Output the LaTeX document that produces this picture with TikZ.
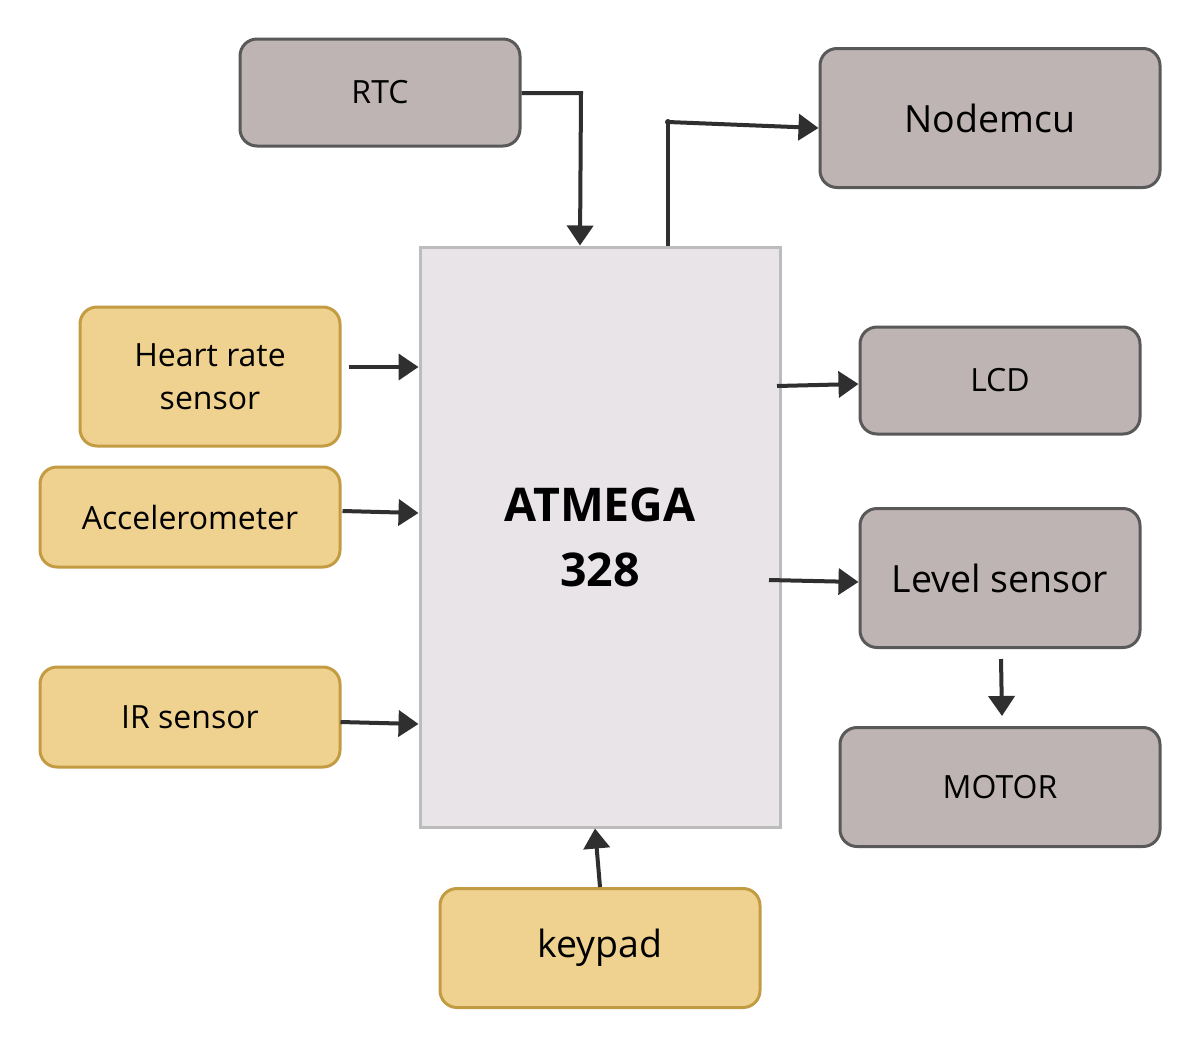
\documentclass[tikz,border=0pt]{standalone}
\usepackage{fontspec}
\setmainfont{Open Sans}
\usetikzlibrary{arrows.meta}
\definecolor{grayfill}{HTML}{BEB4B3}
\definecolor{grayline}{HTML}{595959}
\definecolor{yelfill}{HTML}{F0D290}
\definecolor{yelline}{HTML}{C39B43}
\definecolor{mcufill}{HTML}{E8E4E8}
\definecolor{mculine}{HTML}{BCBCBC}
\definecolor{arrcol}{HTML}{2F2F2F}
\begin{document}
\begin{tikzpicture}[x=1pt,y=-1pt,
  box/.style={draw, line width=3pt, rounded corners=17pt, inner sep=0pt, align=center},
  graybox/.style={box, fill=grayfill, draw=grayline},
  yelbox/.style={box, fill=yelfill, draw=yelline},
  mcu/.style={draw=mculine, fill=mcufill, line width=3pt, inner sep=0pt, align=center},
  arr/.style={draw=arrcol, line width=4pt, -{Triangle[length=20pt,width=26pt]}},
  ln/.style={draw=arrcol, line width=4pt},
  smallfont/.style={font=\fontsize{32}{43}\selectfont},
  bigfont/.style={font=\fontsize{37.5}{45}\selectfont}]
\useasboundingbox[fill=white] (0,0) rectangle (1201,1047);
% nodes
\node[mcu, minimum width=360pt, minimum height=580pt, font=\fontsize{46.5}{65}\selectfont\bfseries] (atmega) at (600,537)
  {ATMEGA\\328};
\node[graybox, minimum width=280pt, minimum height=107pt, smallfont] (rtc) at (380,92.5) {RTC};
\node[graybox, minimum width=340pt, minimum height=139pt, bigfont] (nodemcu) at (990,118) {Nodemcu};
\node[yelbox, minimum width=260pt, minimum height=139pt, smallfont] (heart) at (210,376.5) {Heart rate\\sensor};
\node[yelbox, minimum width=300pt, minimum height=100pt, smallfont] (accel) at (190,517) {Accelerometer};
\node[yelbox, minimum width=300pt, minimum height=100pt, smallfont] (ir) at (190,717) {IR sensor};
\node[graybox, minimum width=280pt, minimum height=107pt, smallfont] (lcd) at (1000,380.5) {LCD};
\node[graybox, minimum width=280pt, minimum height=139pt, bigfont] (level) at (1000,578) {Level sensor};
\node[graybox, minimum width=320pt, minimum height=119pt, smallfont] (motor) at (1000,787) {MOTOR};
\node[yelbox, minimum width=320pt, minimum height=119pt, bigfont] (keypad) at (600,948) {keypad};
% connectors
\draw[arr] (rtc.east |- 0,93) -- (581,93) -- (atmega.north -| 580,0);
\draw[ln] (atmega.north -| 668,0) -- (668,122);
\draw[arr] (668,122) -- (nodemcu.west |- 0,128);
\fill[arrcol] (668,122) circle (3pt);
\draw[arr] ([xshift=7pt]heart.east |- 0,367) -- (atmega.west |- 0,367);
\draw[arr] ([xshift=1pt]accel.east |- 0,511) -- (atmega.west |- 0,513);
\draw[arr] ([xshift=-1pt]ir.east |- 0,722) -- (atmega.west |- 0,724);
\draw[arr] (777,386) -- (lcd.west |- 0,384);
\draw[arr] (769,580) -- (level.west |- 0,582);
\draw[arr] ([yshift=-10pt]level.south -| 1001,0) -- ([yshift=10pt]motor.north -| 1002,0);
\draw[arr] (keypad.north -| 600,0) -- (atmega.south -| 595,0);
\end{tikzpicture}
\end{document}
